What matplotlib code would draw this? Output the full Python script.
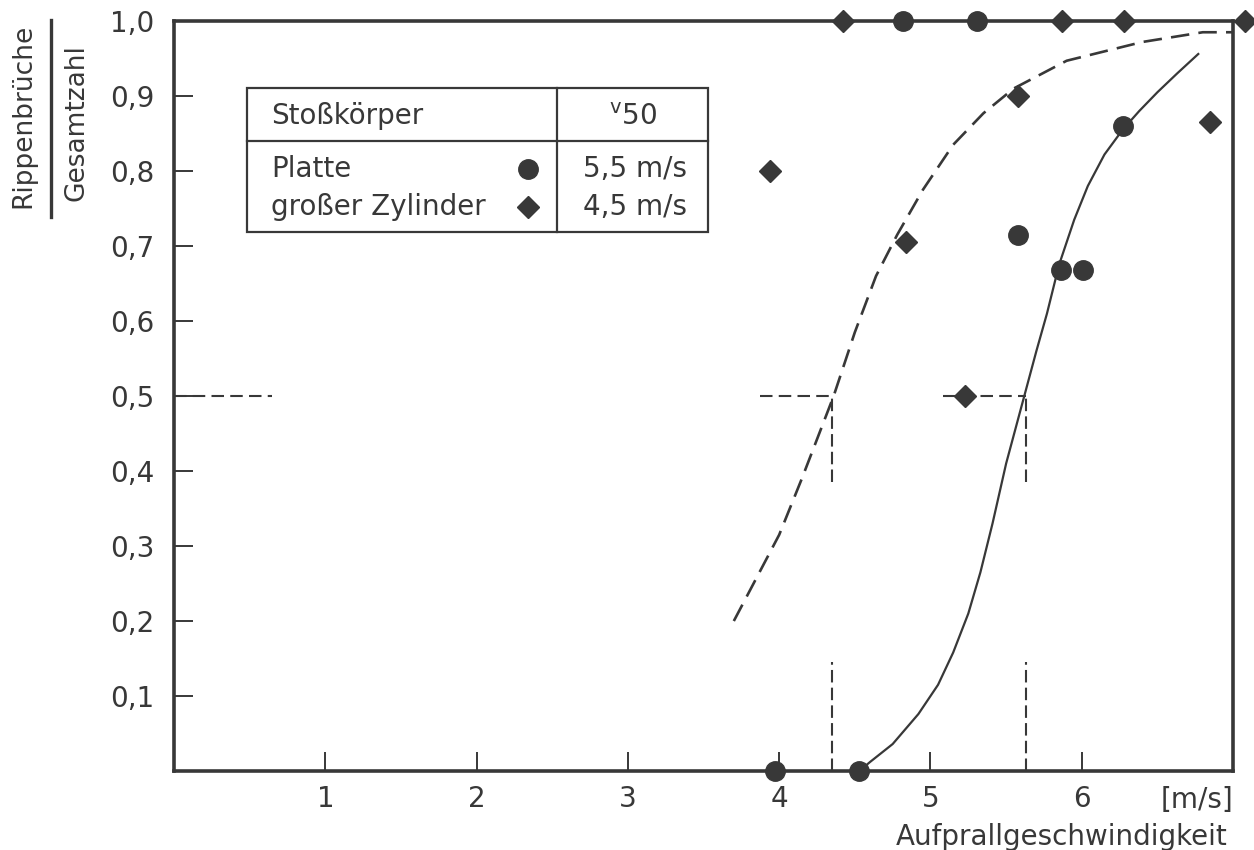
import matplotlib
matplotlib.use("Agg")
import matplotlib.pyplot as plt
from matplotlib.lines import Line2D
from matplotlib.patches import Rectangle

# data
plate_x = [3.97, 4.53, 4.82, 5.31, 5.58, 5.86, 6.01, 6.27]
plate_y = [0.0, 0.0, 1.0, 1.0, 0.715, 0.668, 0.668, 0.86]

cyl_x = [3.94, 4.42, 4.84, 5.23, 5.58, 5.87, 6.28, 6.85, 7.08]
cyl_y = [0.80, 1.0, 0.705, 0.50, 0.90, 1.0, 1.0, 0.865, 1.0]

# fitted curves (hand drawn in the original)
cyl_fit_x = [3.70, 4.00, 4.15, 4.36, 4.50, 4.64, 4.78, 4.95, 5.15, 5.35, 5.55, 5.90, 6.40, 6.80, 7.00]
cyl_fit_y = [0.20, 0.315, 0.39, 0.50, 0.585, 0.66, 0.715, 0.775, 0.835, 0.877, 0.91, 0.947, 0.972, 0.985, 0.985]

plate_fit_x = [4.53, 4.60, 4.75, 4.92, 5.05, 5.15, 5.25, 5.33, 5.41, 5.50, 5.62, 5.70, 5.77, 5.85,
               5.95, 6.04, 6.15, 6.27, 6.38, 6.50, 6.63, 6.77]
plate_fit_y = [0.0, 0.012, 0.036, 0.076, 0.115, 0.158, 0.21, 0.265, 0.33, 0.41, 0.50, 0.56, 0.61, 0.675,
               0.735, 0.78, 0.822, 0.855, 0.88, 0.905, 0.93, 0.956]

# v50 construction lines
v50_x = [4.35, 5.63]
v50_left = [3.87, 5.08]
v50_level = 0.5
guide_x = [0.0, 0.65]
vert_upper = [0.385, 0.5]
vert_lower = [0.0, 0.145]

x_ticks = [1, 2, 3, 4, 5, 6]
y_ticks = [0.1, 0.2, 0.3, 0.4, 0.5, 0.6, 0.7, 0.8, 0.9, 1.0]
y_labels = ["0,1", "0,2", "0,3", "0,4", "0,5", "0,6", "0,7", "0,8", "0,9", "1,0"]

ink = "#383838"
fs = 20

plt.rcParams["font.family"] = ["DejaVu Sans"]

fig = plt.figure(figsize=(12.54, 8.5), dpi=100)
ax = fig.add_axes([0.1388, 0.0929, 0.8445, 0.8824])
ax.set_xlim(0, 7.0)
ax.set_ylim(0, 1.0)

for s in ax.spines.values():
    s.set_linewidth(2.6)
    s.set_color(ink)

ax.set_xticks(x_ticks)
ax.set_xticklabels([str(t) for t in x_ticks])
ax.set_yticks(y_ticks)
ax.set_yticklabels(y_labels)
ax.tick_params(direction="in", length=14, width=1.4, color=ink, labelcolor=ink,
               labelsize=fs)
ax.tick_params(axis="y", pad=14)
ax.tick_params(axis="x", pad=10)

# curves
ax.plot(cyl_fit_x, cyl_fit_y, color=ink, lw=1.9, dashes=(7, 3.5), clip_on=False)
ax.plot(plate_fit_x, plate_fit_y, color=ink, lw=1.6)

# v50 guides
ax.plot(guide_x, [v50_level] * 2, color=ink, lw=1.5, dashes=(6, 3))
for xl, xv in zip(v50_left, v50_x):
    ax.plot([xl, xv], [v50_level] * 2, color=ink, lw=1.5, dashes=(6, 3))
    ax.plot([xv, xv], vert_upper, color=ink, lw=1.5, dashes=(6, 2.5))
    ax.plot([xv, xv], vert_lower, color=ink, lw=1.5, dashes=(6, 2.5))

# measured points
ax.plot(plate_x, plate_y, "o", color=ink, ms=14, clip_on=False, zorder=5)
ax.plot(cyl_x, cyl_y, "D", color=ink, ms=11.5, clip_on=False, zorder=5)

# legend table
tr = ax.transAxes
ax.add_patch(Rectangle((0.069, 0.719), 0.435, 0.192, transform=tr,
                       fill=False, lw=1.6, edgecolor=ink))
ax.add_line(Line2D([0.069, 0.504], [0.84, 0.84], transform=tr, lw=1.6, color=ink))
ax.add_line(Line2D([0.362, 0.362], [0.719, 0.911], transform=tr, lw=1.6, color=ink))
ax.text(0.0915, 0.874, "Stoßkörper", transform=tr, fontsize=fs, color=ink, va="center")
ax.text(0.433, 0.872, r"$\mathregular{^v50}$", transform=tr, fontsize=fs, color=ink,
        va="center", ha="center")
ax.text(0.0915, 0.803, "Platte", transform=tr, fontsize=fs, color=ink, va="center")
ax.text(0.0915, 0.752, "großer Zylinder", transform=tr, fontsize=fs, color=ink, va="center")
ax.plot([0.334], [0.803], "o", color=ink, ms=14, transform=tr)
ax.plot([0.334], [0.752], "D", color=ink, ms=11.5, transform=tr)
ax.text(0.435, 0.803, "5,5 m/s", transform=tr, fontsize=fs, color=ink, va="center", ha="center")
ax.text(0.435, 0.752, "4,5 m/s", transform=tr, fontsize=fs, color=ink, va="center", ha="center")

# axis titles
ax.text(1.0, -0.039, "[m/s]", transform=tr, fontsize=fs, color=ink, ha="right", va="center")
fig.text(0.9785, 0.0153, "Aufprallgeschwindigkeit", fontsize=fs, color=ink,
         ha="right", va="center")
fig.text(0.0183, 0.8635, "Rippenbrüche", rotation=90, fontsize=fs - 1, color=ink,
         ha="center", va="center")
fig.text(0.0614, 0.856, "Gesamtzahl", rotation=90, fontsize=fs - 1, color=ink,
         ha="center", va="center")
fig.add_artist(Line2D([0.0407, 0.0407], [0.745, 0.976], transform=fig.transFigure,
                      lw=2.4, color=ink))

fig.savefig("out.png", dpi=100, facecolor="white")
